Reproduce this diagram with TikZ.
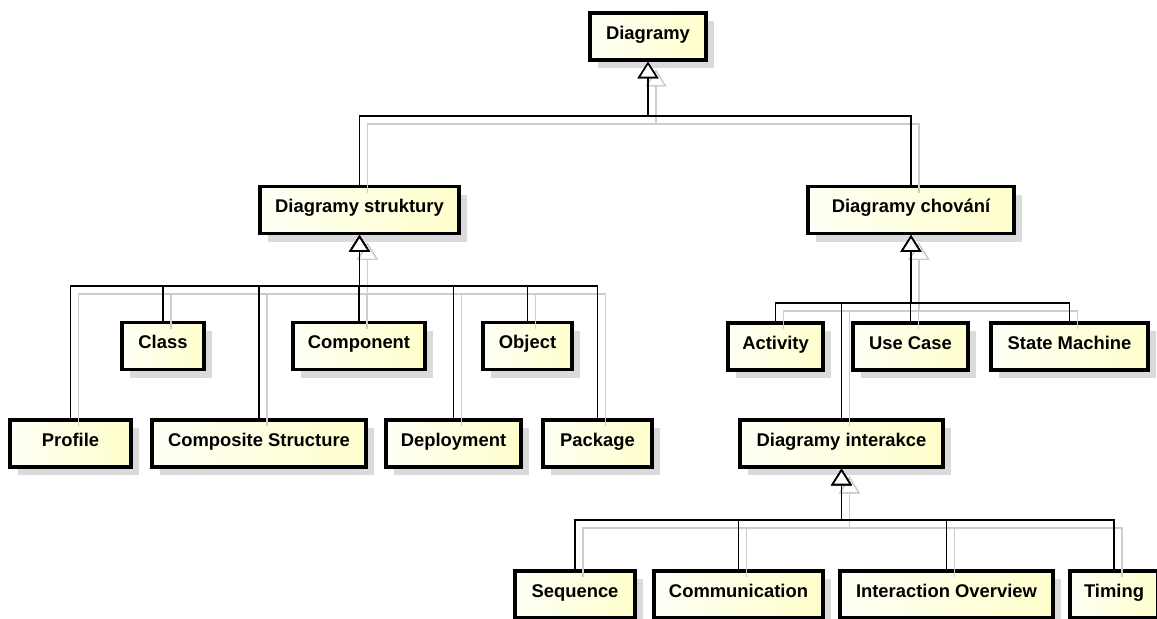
\documentclass[tikz,border=0pt]{standalone}
\usepackage{fontspec}
\setmainfont{Liberation Sans}
\usetikzlibrary{arrows.meta,shadows}
\definecolor{boxshadow}{RGB}{218,218,218}
\definecolor{lineshadow}{RGB}{205,205,205}
\definecolor{fillL}{RGB}{255,255,246}
\definecolor{fillR}{RGB}{255,255,204}
\newcommand\myconnectors[1]{%
  \draw[#1] (struktury.north) |- (b0) -- (diag.south);
  \draw[#1] (chovani.north) |- (b0) -- (diag.south);
  \draw[#1] (profile.north) |- (b1) -- (struktury.south);
  \draw[#1] (class.north) |- (b1) -- (struktury.south);
  \draw[#1] (composite.north) |- (b1) -- (struktury.south);
  \draw[#1] (component.north) |- (b1) -- (struktury.south);
  \draw[#1] (deployment.north) |- (b1) -- (struktury.south);
  \draw[#1] (object.north) |- (b1) -- (struktury.south);
  \draw[#1] (package.north) |- (b1) -- (struktury.south);
  \draw[#1] (activity.north) |- (b2) -- (chovani.south);
  \draw[#1] (usecase.north) |- (b2) -- (chovani.south);
  \draw[#1] (statemachine.north) |- (b2) -- (chovani.south);
  \draw[#1] (interakce.north) |- (b2) -- (chovani.south);
  \draw[#1] (sequence.north) |- (b3) -- (interakce.south);
  \draw[#1] (communication.north) |- (b3) -- (interakce.south);
  \draw[#1] (overview.north) |- (b3) -- (interakce.south);
  \draw[#1] (timing.north) |- (b3) -- (interakce.south);
}
\begin{document}
\begin{tikzpicture}[x=0.75pt,y=-0.75pt,
  box/.style={draw=black, line width=2.5pt, rectangle, inner sep=0pt,
    left color=fillL, right color=fillR, text=black,
    font=\bfseries\fontsize{13.8}{16}\selectfont,
    text height=7.2pt, text depth=3pt, minimum height=35.25pt,
    drop shadow={shadow xshift=6pt, shadow yshift=-6pt, fill=boxshadow, opacity=1}},
  bw/.style={minimum width=#1*0.75pt},
  gen/.style={draw=black, line width=1.2pt,
    -{Triangle[length=12.5pt,width=15.5pt,fill=white,line width=1.2pt]}},
  genshadow/.style={draw=lineshadow, line width=1pt,
    -{Triangle[length=12.5pt,width=15.5pt,fill=white,line width=1pt]}}]
\useasboundingbox (0,0) rectangle (1157,618);
\fill[white] (0,0) rectangle (1157,618);
\clip (0,0) rectangle (1157,618);

% boxes
\node[box, bw=116] (diag) at (648,36.5) {Diagramy};
\node[box, bw=199] (struktury) at (359.5,210) {Diagramy struktury};
\node[box, bw=206] (chovani) at (911,210) {Diagramy chování};
\node[box, bw=82]  (class) at (163,346) {Class};
\node[box, bw=132] (component) at (359,346) {Component};
\node[box, bw=89]  (object) at (527.5,346) {Object};
\node[box, bw=121] (profile) at (70.5,443.5) {Profile};
\node[box, bw=214] (composite) at (259,443.5) {Composite Structure};
\node[box, bw=135] (deployment) at (453.5,443.5) {Deployment};
\node[box, bw=109] (package) at (597.5,443.5) {Package};
\node[box, bw=95]  (activity) at (775.5,346.5) {Activity};
\node[box, bw=115] (usecase) at (910.5,346.5) {Use Case};
\node[box, bw=157] (statemachine) at (1069.5,346.5) {State Machine};
\node[box, bw=203] (interakce) at (841.5,443.5) {Diagramy interakce};
\node[box, bw=120] (sequence) at (575,594.5) {Sequence};
\node[box, bw=169] (communication) at (738.5,594.5) {Communication};
\node[box, bw=213] (overview) at (946.5,594.5) {Interaction Overview};
\node[box, bw=88]  (timing) at (1114,594.5) {Timing};

% bus junctions
\coordinate (b0) at (648,116);
\coordinate (b1) at (359.5,286);
\coordinate (b2) at (911,303);
\coordinate (b3) at (841.5,520);

% connector shadows
\begin{scope}[transform canvas={xshift=6pt,yshift=-6pt}]
\myconnectors{genshadow}
\end{scope}
% connectors
\myconnectors{gen}
\end{tikzpicture}
\end{document}
